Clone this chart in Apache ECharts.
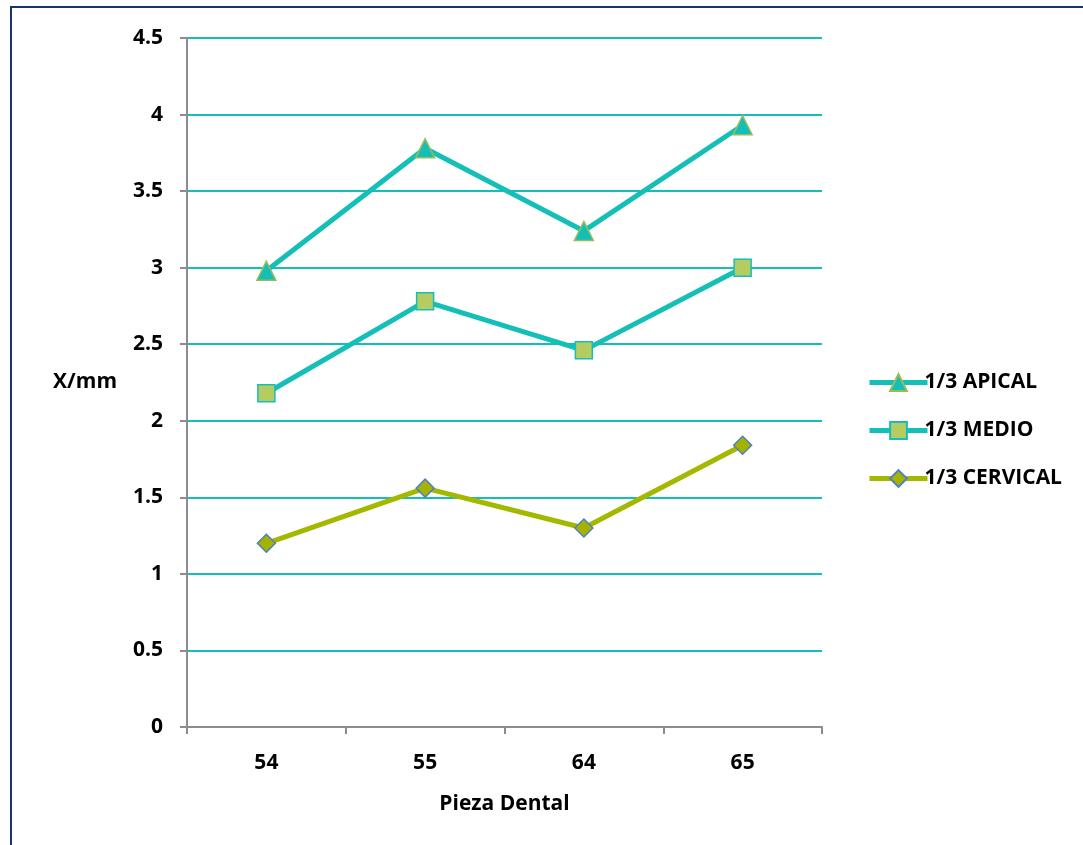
<!DOCTYPE html>
<html>
<head>
<meta charset="utf-8">
<script src="https://cdn.jsdelivr.net/npm/echarts@6/dist/echarts.min.js"></script>
<style>
html,body{margin:0;padding:0;background:#fff;}
#frame{position:absolute;left:10px;top:6px;width:1200px;height:1000px;border:2px solid #17336e;box-sizing:border-box;}
#chart{position:absolute;left:0;top:0;width:1083px;height:845px;}
</style>
</head>
<body>
<div id="frame"></div>
<div id="chart"></div>
<script>
const categories = ['54', '55', '64', '65'];
const apical = [2.98, 3.78, 3.24, 3.93];
const medio = [2.18, 2.78, 2.46, 3.00];
const cervical = [1.20, 1.56, 1.30, 1.84];
const seriesNames = ['1/3 APICAL', '1/3 MEDIO', '1/3 CERVICAL'];

const FONT = 'Open Sans';
const FS = 21;
const chart = echarts.init(document.getElementById('chart'), null, {renderer: 'canvas'});
chart.setOption({
  backgroundColor: 'transparent',
  animation: false,
  grid: {left: 187, right: 261, top: 38, bottom: 118, containLabel: false},
  legend: {
    orient: 'vertical',
    left: 862,
    top: 367,
    itemWidth: 58,
    itemHeight: 21,
    itemGap: 27,
    lineStyle: {width: 5},
    textStyle: {fontFamily: FONT, fontWeight: 'bold', fontSize: FS, color: '#000', padding: [0, 0, 0, -8]},
    data: seriesNames
  },
  xAxis: {
    type: 'category',
    data: categories,
    boundaryGap: true,
    name: 'Pieza Dental',
    nameLocation: 'middle',
    nameGap: 67,
    nameTextStyle: {fontFamily: FONT, fontWeight: 'bold', fontSize: FS, color: '#000'},
    axisLine: {lineStyle: {color: '#8c8c8c', width: 2}},
    axisTick: {show: true, length: 7, lineStyle: {color: '#8c8c8c', width: 2}},
    axisLabel: {fontFamily: FONT, fontWeight: 'bold', fontSize: FS, color: '#000', margin: 26},
    splitLine: {show: false}
  },
  yAxis: {
    type: 'value',
    min: 0, max: 4.5, interval: 0.5,
    name: 'X/mm',
    nameLocation: 'middle',
    nameRotate: 0,
    nameGap: 70,
    nameTextStyle: {fontFamily: FONT, fontWeight: 'bold', fontSize: FS, color: '#000', align: 'right', padding: [6, 0, 0, 0]},
    axisLine: {show: true, lineStyle: {color: '#8c8c8c', width: 2}},
    axisTick: {show: true, length: 7, lineStyle: {color: '#8c8c8c', width: 2}},
    axisLabel: {fontFamily: FONT, fontWeight: 'bold', fontSize: FS, color: '#000', margin: 24},
    splitLine: {show: true, lineStyle: {color: '#14bfb8', width: 2}}
  },
  series: [
    {
      name: seriesNames[0], type: 'line', data: apical,
      symbol: 'triangle', symbolSize: 19,
      lineStyle: {color: '#14bfb8', width: 5},
      itemStyle: {color: '#14bfb8', borderColor: '#9bbb59', borderWidth: 1.5},
      z: 3
    },
    {
      name: seriesNames[1], type: 'line', data: medio,
      symbol: 'rect', symbolSize: 17,
      lineStyle: {color: '#14bfb8', width: 5},
      itemStyle: {color: '#b5cc60', borderColor: '#14bfb8', borderWidth: 1.5},
      z: 3
    },
    {
      name: seriesNames[2], type: 'line', data: cervical,
      symbol: 'diamond', symbolSize: 18,
      lineStyle: {color: '#a5b800', width: 5},
      itemStyle: {color: '#a5b300', borderColor: '#4f81bd', borderWidth: 1.5},
      z: 3
    }
  ]
});
</script>
</body>
</html>
